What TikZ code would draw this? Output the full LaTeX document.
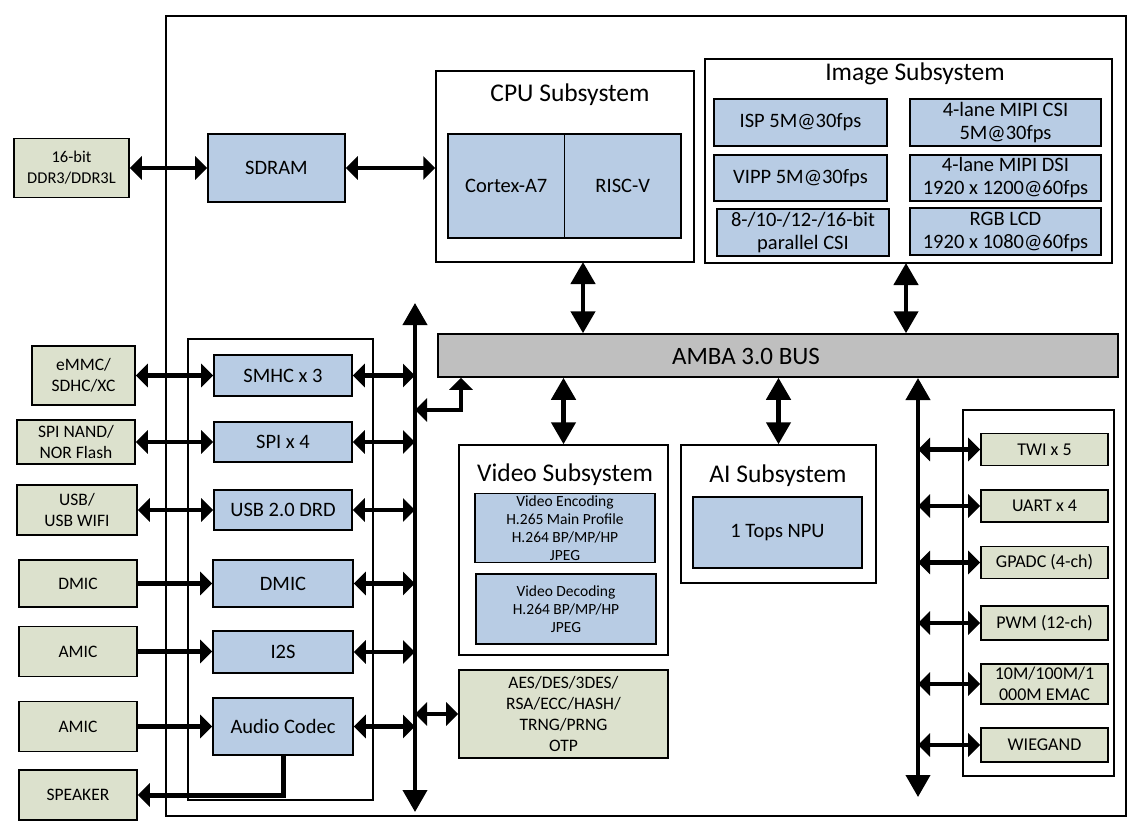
\documentclass[tikz,border=0pt]{standalone}
\usepackage{fontspec}
\setmainfont{Carlito}
\usepackage{tikz}
\usetikzlibrary{arrows.meta,positioning,calc}
\newcommand{\fsz}[2]{\fontsize{#1pt}{#2pt}\selectfont}
\definecolor{blockblue}{RGB}{184,204,228}
\definecolor{padgreen}{RGB}{220,225,205}
\definecolor{busgray}{RGB}{191,191,191}

\begin{document}
\begin{tikzpicture}[x=1pt, y=-1pt,
    blk/.style={draw, line width=1.6pt, fill=blockblue, align=center, inner sep=0pt, font=\fsz{20.5}{23}},
    pad/.style={draw, line width=1.6pt, fill=padgreen, align=center, inner sep=0pt, font=\fsz{17.5}{21}},
    frame/.style={draw, line width=1.5pt, inner sep=0pt},
    title/.style={font=\fsz{25.5}{28}},
    hlink/.style={line width=4.5pt, {Triangle[width=23pt,length=12pt]}-{Triangle[width=23pt,length=12pt]}},
    hfeed/.style={line width=4.5pt, -{Triangle[width=23pt,length=12pt]}},
    vlink/.style={line width=4.5pt, {Triangle[width=24pt,length=22pt]}-{Triangle[width=24pt,length=22pt]}}]
    % Canvas: 1pt = 1px of the reference, y grows downward
    \useasboundingbox (0,0) rectangle (1140,839);

    % Chip outline and group frames
    \node[frame, minimum width=960, minimum height=800] (chip) at (646,416) {};
    \node[frame, minimum width=185, minimum height=461] (leftgrp) at (280.5,569.5) {};
    \node[frame, minimum width=151, minimum height=366] (rightgrp) at (1038.5,593) {};

    % CPU subsystem
    \node[frame, minimum width=258, minimum height=191] (cpu) at (565,166.5) {};
    \node[title] (cputitle) at (570,95) {CPU Subsystem};
    \node[blk, minimum width=116.5, minimum height=104] (cortex) at (506.25,186) {Cortex-A7};
    \node[blk, minimum width=116.5, minimum height=104] (riscv) at (622.75,186) {RISC-V};

    % Image subsystem
    \node[frame, minimum width=407, minimum height=204] (imgsub) at (908.5,161) {};
    \node[title] (imgtitle) at (915,74) {Image Subsystem};
    \node[blk, minimum width=173, minimum height=47] (isp) at (800.5,122.5) {ISP 5M@30fps};
    \node[blk, minimum width=173, minimum height=46] (vipp) at (800.5,178) {VIPP 5M@30fps};
    \node[blk, minimum width=172, minimum height=47] (pcsi) at (803,232.5) {8-/10-/12-/16-bit\\parallel CSI};
    \node[blk, minimum width=191, minimum height=47] (mcsi) at (1005.5,122.5) {4-lane MIPI CSI\\5M@30fps};
    \node[blk, minimum width=191, minimum height=46] (mdsi) at (1005.5,178) {4-lane MIPI DSI\\1920 x 1200@60fps};
    \node[blk, minimum width=191, minimum height=47] (rgb) at (1005.5,231.5) {RGB LCD\\1920 x 1080@60fps};

    % Memory
    \node[pad, font=\fsz{16.5}{21}, minimum width=115, minimum height=59] (ddr) at (71.5,168) {16-bit\\DDR3/DDR3L};
    \node[blk, minimum width=137, minimum height=68] (sdram) at (276.5,168) {SDRAM};

    % AMBA bus
    \node[draw, line width=1.5pt, fill=busgray, minimum width=680, minimum height=43] (amba) at (778,355.5) {};
    \node[font=\fsz{25}{28}] (ambalabel) at (746,356) {AMBA 3.0 BUS};

    % Video and AI subsystems
    \node[frame, minimum width=209, minimum height=210] (vidsub) at (563.5,550) {};
    \node[title] (vidtitle) at (565,475) {Video Subsystem};
    \node[blk, font=\fsz{15.5}{18}, minimum width=180, minimum height=69] (venc) at (565,528) {Video Encoding\\H.265 Main Profile\\H.264 BP/MP/HP\\JPEG};
    \node[blk, font=\fsz{15.5}{18}, minimum width=180, minimum height=70] (vdec) at (566,609) {Video Decoding\\H.264 BP/MP/HP\\JPEG};
    \node[frame, minimum width=195, minimum height=138] (aisub) at (778.5,514) {};
    \node[title] (aititle) at (778,476) {AI Subsystem};
    \node[blk, minimum width=169, minimum height=71] (npu) at (777.5,532.5) {1 Tops NPU};

    % Security
    \node[pad, minimum width=209, minimum height=88] (crypto) at (563.5,714) {AES/DES/3DES/\\RSA/ECC/HASH/\\TRNG/PRNG\\OTP};

    % Left peripherals
    \node[blk, minimum width=138, minimum height=41] (smhc) at (283,375.5) {SMHC x 3};
    \node[blk, minimum width=138, minimum height=40] (spi) at (283,442) {SPI x 4};
    \node[blk, minimum width=138, minimum height=40] (usb) at (283,510) {USB 2.0 DRD};
    \node[blk, minimum width=140, minimum height=47] (dmic) at (283,583.5) {DMIC};
    \node[blk, minimum width=140, minimum height=42] (i2s) at (283,652) {I2S};
    \node[blk, minimum width=140, minimum height=57] (codec) at (283,726.5) {Audio Codec};

    % External devices
    \node[pad, minimum width=103, minimum height=59] (emmc) at (83.5,375.5) {eMMC/\\SDHC/XC};
    \node[pad, minimum width=118, minimum height=44] (flash) at (76,442) {SPI NAND/\\NOR Flash};
    \node[pad, minimum width=120, minimum height=50] (usbwifi) at (77,510) {USB/\\USB WIFI};
    \node[pad, minimum width=118, minimum height=47] (dmicin) at (78,583.5) {DMIC};
    \node[pad, minimum width=118, minimum height=50] (amica) at (78,651.5) {AMIC};
    \node[pad, minimum width=118, minimum height=50] (amicb) at (78,726.5) {AMIC};
    \node[pad, minimum width=118, minimum height=50] (speaker) at (78,795) {SPEAKER};

    % Right peripherals
    \node[pad, font=\fsz{18}{21}, minimum width=127, minimum height=32] (twi) at (1044.5,449.5) {TWI x 5};
    \node[pad, font=\fsz{18}{21}, minimum width=127, minimum height=32] (uart) at (1044.5,506) {UART x 4};
    \node[pad, font=\fsz{18}{21}, minimum width=127, minimum height=32] (gpadc) at (1044.5,562.5) {GPADC (4-ch)};
    \node[pad, font=\fsz{18}{21}, minimum width=127, minimum height=34] (pwm) at (1044.5,623) {PWM (12-ch)};
    \node[pad, font=\fsz{18}{21}, minimum width=127, minimum height=40] (emac) at (1044.5,684) {10M/100M/1\\000M EMAC};
    \node[pad, font=\fsz{18}{21}, minimum width=127, minimum height=34] (wiegand) at (1044.5,745) {WIEGAND};

    % Bus ends and ports
    \coordinate (lbtop) at (415,303);
    \coordinate (lbbot) at (415,812);
    \coordinate (rbtop) at (918,378);
    \coordinate (rbbot) at (918,797);
    \coordinate (cpuport) at (583,262);
    \coordinate (imgport) at (906,263);
    \coordinate (elbow) at (461,410);

    % Memory path
    \draw[hlink] (ddr.east) -- (sdram.west);
    \draw[hlink] (sdram.east) -- (sdram.east -| cpu.west);

    % Subsystems to AMBA
    \draw[vlink] (cpuport) -- (cpuport |- amba.north);
    \draw[vlink] (imgport) -- (imgport |- amba.north);
    \draw[vlink] (vidsub.north) -- (vidsub.north |- amba.south);
    \draw[vlink] (aisub.north) -- (aisub.north |- amba.south);

    % Peripheral buses
    \draw[vlink, line width=4pt] (lbtop) -- (lbbot);
    \draw[vlink, line width=4pt] (rbtop) -- (rbbot);
    \draw[hlink] (elbow -| lbtop) -- (elbow) -- (elbow |- amba.south);
    \draw[hlink] (crypto.west -| lbtop) -- (crypto.west);

    % Left side links
    \foreach \p in {smhc,spi,usb,dmic,i2s,codec} {
        \draw[hlink] (\p.east) -- (\p.east -| lbtop);
    }
    \foreach \e/\p in {emmc/smhc, flash/spi, usbwifi/usb} {
        \draw[hlink] (\e.east) -- (\e.east -| \p.west);
    }
    \foreach \e/\p in {dmicin/dmic, amica/i2s, amicb/codec} {
        \draw[hfeed] (\e.east) -- (\e.east -| \p.west);
    }
    \draw[hfeed, line width=5pt] (codec.south) -- (codec.south |- speaker.east) -- (speaker.east);

    % Right side links
    \foreach \p in {twi,uart,gpadc,pwm,emac,wiegand} {
        \draw[hlink] (\p.west -| rbtop) -- (\p.west);
    }
\end{tikzpicture}
\end{document}
